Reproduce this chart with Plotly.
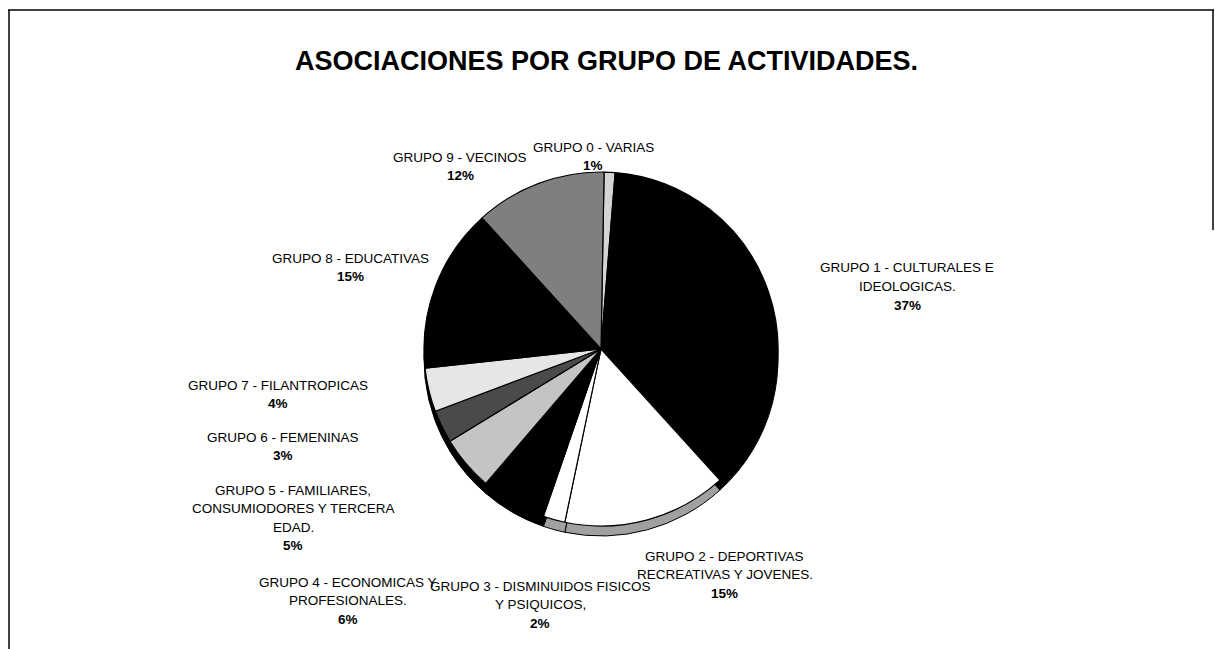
import plotly.graph_objects as go

# ---------------- data ----------------
groups = ["GRUPO 0 - VARIAS", "GRUPO 1 - CULTURALES E IDEOLOGICAS.",
          "GRUPO 2 - DEPORTIVAS RECREATIVAS Y JOVENES.",
          "GRUPO 3 - DISMINUIDOS FISICOS Y PSIQUICOS,",
          "GRUPO 4 - ECONOMICAS Y PROFESIONALES.",
          "GRUPO 5 - FAMILIARES, CONSUMIODORES Y TERCERA EDAD.",
          "GRUPO 6 - FEMENINAS", "GRUPO 7 - FILANTROPICAS",
          "GRUPO 8 - EDUCATIVAS", "GRUPO 9 - VECINOS"]
percents = [1, 37, 15, 2, 6, 5, 3, 4, 15, 12]
label_lines = [
    ["GRUPO 0 - VARIAS"],
    ["GRUPO 1 - CULTURALES E", "IDEOLOGICAS."],
    ["GRUPO 2 - DEPORTIVAS", "RECREATIVAS Y JOVENES."],
    ["GRUPO 3 - DISMINUIDOS FISICOS", "Y PSIQUICOS,"],
    ["GRUPO 4 - ECONOMICAS Y", "PROFESIONALES."],
    ["GRUPO 5 - FAMILIARES,", "CONSUMIODORES Y TERCERA", "EDAD."],
    ["GRUPO 6 - FEMENINAS"],
    ["GRUPO 7 - FILANTROPICAS"],
    ["GRUPO 8 - EDUCATIVAS"],
    ["GRUPO 9 - VECINOS"],
]
title_text = "ASOCIACIONES POR GRUPO DE ACTIVIDADES."

# ---------------- styles ----------------
W, H = 1215, 649
slice_colors = ["#d4d4d4", "#000000", "#ffffff", "#ffffff", "#000000",
                "#c4c4c4", "#4a4a4a", "#e6e6e6", "#000000", "#7f7f7f"]
depth_colors = ["#000000", "#000000", "#a0a0a0", "#a0a0a0", "#000000",
                "#000000", "#000000", "#000000", "#000000", "#000000"]
# label anchor: (center x, first line y) in pixels
label_pos = [(593, 147), (907, 268), (725, 556), (540, 586), (348, 582),
             (293, 490), (283, 437), (278, 385), (350, 258), (460, 157)]
line_h = 18.5
FONT = "Liberation Sans, Arial, sans-serif"

cx, cy, r = 601, 349, 177
depth = 10


def dom(cx, cy, r):
    return dict(x=[(cx - r) / W, (cx + r) / W],
                y=[(H - cy - r) / H, (H - cy + r) / H])


fig = go.Figure()
# 3D depth (side) of the pie
fig.add_trace(go.Pie(
    values=percents, labels=groups, sort=False, direction="clockwise",
    rotation=1, textinfo="none", hoverinfo="skip", showlegend=False,
    marker=dict(colors=depth_colors, line=dict(color="black", width=1)),
    domain=dom(cx, cy + depth, r),
))
# top face
fig.add_trace(go.Pie(
    values=percents, labels=groups, sort=False, direction="clockwise",
    rotation=1, textinfo="none", hoverinfo="label+percent", showlegend=False,
    marker=dict(colors=slice_colors, line=dict(color="black", width=1.2)),
    domain=dom(cx, cy, r),
))

annotations = [dict(text="<b>" + title_text + "</b>", x=606 / W, y=1 - 61 / H,
                    xref="paper", yref="paper", showarrow=False,
                    xanchor="center", yanchor="middle",
                    font=dict(family=FONT, size=27, color="black"))]
for lines, pct, (lx, ly) in zip(label_lines, percents, label_pos):
    all_lines = lines + ["<b>%d%%</b>" % pct]
    for i, t in enumerate(all_lines):
        annotations.append(dict(
            text=t, x=lx / W, y=1 - (ly + i * line_h) / H,
            xref="paper", yref="paper", showarrow=False,
            xanchor="center", yanchor="middle",
            font=dict(family=FONT, size=13.5, color="black")))

shapes = [
    dict(type="line", xref="paper", yref="paper", x0=8 / W, x1=1214 / W,
         y0=1 - 10 / H, y1=1 - 10 / H, line=dict(color="black", width=1.5)),
    dict(type="line", xref="paper", yref="paper", x0=9 / W, x1=9 / W,
         y0=1 - 10 / H, y1=0, line=dict(color="black", width=1.5)),
    dict(type="line", xref="paper", yref="paper", x0=1213 / W, x1=1213 / W,
         y0=1 - 10 / H, y1=1 - 230 / H, line=dict(color="black", width=1.5)),
]

fig.update_layout(width=W, height=H, margin=dict(l=0, r=0, t=0, b=0),
                  paper_bgcolor="white", plot_bgcolor="white",
                  annotations=annotations, shapes=shapes)
fig.write_html("out.html", config={"displayModeBar": False},
               post_script="document.body.style.margin='0';"
                           "document.body.style.overflow='hidden';")
